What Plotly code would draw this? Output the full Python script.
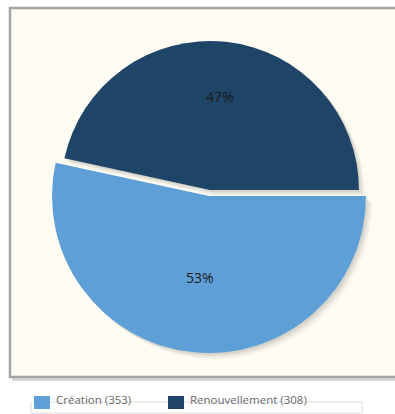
import math
import plotly.graph_objects as go

# ---- data ----
labels = ["Création", "Renouvellement"]
values = [353, 308]
colors = ["#5f9fd8", "#1e4468"]

W, H = 395, 414

# geometry (px): each slice drawn with its own centre/radius; lab = label distance factor
slice_geom = [
    dict(cx=209, cy=196, r=157, lab=0.52),   # Création (pulled / bigger)
    dict(cx=210, cy=190, r=149, lab=0.63),   # Renouvellement
]


def dom(cx, cy, r):
    return dict(x=[(cx - r) / W, (cx + r) / W],
                y=[(H - cy - r) / H, (H - cy + r) / H])


fig = go.Figure()

# shadows
shadow_layers = [(6, 0.05), (4, 0.07), (2, 0.09)]
for i, g in enumerate(slice_geom):
    for off, a in shadow_layers:
        cols = ["rgba(0,0,0,0)"] * len(values)
        cols[i] = f"rgba(60,50,40,{a})"
        fig.add_trace(go.Pie(
            labels=labels, values=values, sort=False,
            direction="clockwise", rotation=90,
            marker=dict(colors=cols, line=dict(width=0)),
            textinfo="none", hoverinfo="skip", showlegend=False,
            domain=dom(g["cx"] + off, g["cy"] + off, g["r"]),
        ))

# slices
total = sum(values)
annotations = []
cum = 0
for i, g in enumerate(slice_geom):
    cols = ["rgba(0,0,0,0)"] * len(values)
    cols[i] = colors[i]
    fig.add_trace(go.Pie(
        labels=labels, values=values, sort=False,
        direction="clockwise", rotation=90,
        marker=dict(colors=cols, line=dict(width=0)),
        textinfo="none", hoverinfo="skip", showlegend=False,
        domain=dom(g["cx"], g["cy"], g["r"]),
    ))
    # percentage label along the slice bisector (clockwise from 3 o'clock)
    mid = (cum + values[i] / 2) / total * 2 * math.pi
    cum += values[i]
    lx = g["cx"] + g["lab"] * g["r"] * math.cos(mid)
    ly = g["cy"] + g["lab"] * g["r"] * math.sin(mid)
    annotations.append(dict(xref="paper", yref="paper", x=lx / W, y=(H - ly) / H,
                            xanchor="center", yanchor="middle", showarrow=False,
                            text=f"{round(values[i] / total * 100)}%",
                            font=dict(family="Open Sans", size=14, color="#1a1a1a")))

shapes = [
    # panel shadow
    dict(type="rect", xref="paper", yref="paper", layer="below",
         x0=12 / W, x1=1.05, y0=(H - 381) / H, y1=(H - 10) / H,
         fillcolor="#d8d8d8", line=dict(width=0)),
    # panel
    dict(type="rect", xref="paper", yref="paper", layer="below",
         x0=10 / W, x1=1.05, y0=(H - 377) / H, y1=(H - 8) / H,
         fillcolor="#fffcf4", line=dict(color="#a3a3a3", width=2.5)),
    # legend box
    dict(type="rect", xref="paper", yref="paper", layer="below",
         x0=31 / W, x1=362 / W, y0=(H - 413) / H, y1=(H - 402) / H,
         fillcolor="white", line=dict(color="#dddddd", width=1)),
]
leg_x = [34, 168]
for i, lab in enumerate(labels):
    x0 = leg_x[i]
    shapes.append(dict(type="rect", xref="paper", yref="paper", layer="above",
                       x0=x0 / W, x1=(x0 + 16) / W,
                       y0=(H - 409) / H, y1=(H - 396) / H,
                       fillcolor=colors[i], line=dict(width=0)))
    annotations.append(dict(xref="paper", yref="paper", x=(x0 + 20) / W,
                            y=(H - 399.5) / H, xanchor="left", yanchor="middle",
                            showarrow=False, text=f"{lab} ({values[i]})",
                            font=dict(family="Open Sans", size=11.5, color="#6a6a6a")))

fig.update_layout(
    width=W, height=H, margin=dict(l=0, r=0, t=0, b=0),
    paper_bgcolor="white", plot_bgcolor="white",
    shapes=shapes, annotations=annotations, showlegend=False,
)

fig.write_html("out.html", config={"displayModeBar": False, "staticPlot": True},
               post_script="document.body.style.margin='0';document.body.style.overflow='hidden';")
